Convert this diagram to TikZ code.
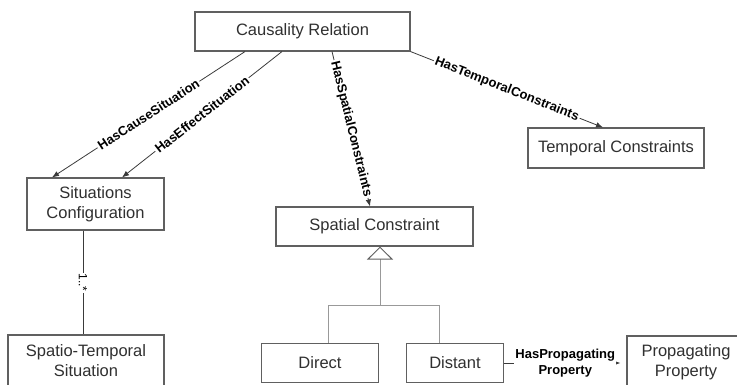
\documentclass[tikz,border=0pt]{standalone}
\usepackage{fontspec}
\setmainfont{Liberation Sans}
\usetikzlibrary{arrows.meta}
\definecolor{linegray}{HTML}{3A3A3A}
\definecolor{boxgray}{HTML}{606060}
\definecolor{textgray}{HTML}{303030}
\tikzset{
  box/.style={draw=boxgray, line width=1.1pt, fill=white, text=textgray, align=center,
    font=\fontsize{16.5}{20}\selectfont, inner sep=0pt},
  rel/.style={sloped, fill=white, inner sep=1.5pt, text=black,
    font=\bfseries\fontsize{13}{15.5}\selectfont},
  conn/.style={draw=linegray, line width=0.8pt, -{Latex[length=7pt,width=5.5pt]}}
}
\begin{document}
\begin{tikzpicture}[x=1pt, y=-1pt]
	\useasboundingbox (0,0) rectangle (737,384);
	% classes
	\node[box, minimum width=215pt, minimum height=39pt] (cr) at (302.5,31.5) {Causality Relation};
	\node[box, minimum width=176pt, minimum height=40pt] (tc) at (616,148) {Temporal Constraints};
	\node[box, minimum width=137pt, minimum height=52pt] (sc) at (95.5,204) {Situations\\Configuration};
	\node[box, minimum width=156pt, minimum height=52pt] (sts) at (86,361) {Spatio-Temporal\\Situation};
	\node[box, minimum width=197pt, minimum height=39pt] (spc) at (374.5,226.5) {Spatial Constraint};
	\node[box, minimum width=117pt, minimum height=39pt] (dir) at (320,363) {Direct};
	\node[box, minimum width=97pt, minimum height=39pt] (dis) at (455,363) {Distant};
	\node[box, minimum width=118pt, minimum height=52pt] (pp) at (686,362) {Propagating\\Property};
	
	% relations
	\draw[conn] ([xshift=-57.5pt]cr.south) -- node[rel]{HasCauseSituation} ([xshift=-43.5pt]sc.north);
	\draw[conn] ([xshift=-20.5pt]cr.south) -- node[rel]{HasEffectSituation} ([xshift=26.5pt]sc.north);
	\draw[conn] ([xshift=29.5pt]cr.south) -- node[rel]{HasSpatialConstraints} ([xshift=-4.5pt]spc.north);
	\draw[conn] (cr.south east) -- node[rel]{HasTemporalConstraints} ([xshift=-13pt]tc.north);
	\draw[conn, shorten >=6pt] (dis.east) -- node[rel, align=center, inner sep=1pt]{HasPropagating\\Property} (dis.east -| pp.west);
	
	% multiplicity
	\draw[linegray, line width=0.8pt] (sc.south -| 83,0) -- node[sloped, fill=white, inner sep=1pt, text=black, font=\fontsize{12}{14}\selectfont]{1..*} (sts.north -| 83,0);
	
	% generalization
	\coordinate (fork) at (380,305);
	\draw[gray!80, line width=0.8pt] (fork -| 328,0) -- (fork -| 439,0);
	\draw[gray!80, line width=0.8pt] (fork -| 328,0) -- (dir.north -| 328,0);
	\draw[gray!80, line width=0.8pt] (fork -| 439,0) -- (dis.north -| 439,0);
	\draw[gray!80, line width=0.8pt, -{Triangle[open, length=13pt, width=26pt, line width=0.9pt, color=boxgray, fill=white]}] (fork) -- (fork |- spc.south);
\end{tikzpicture}
\end{document}
